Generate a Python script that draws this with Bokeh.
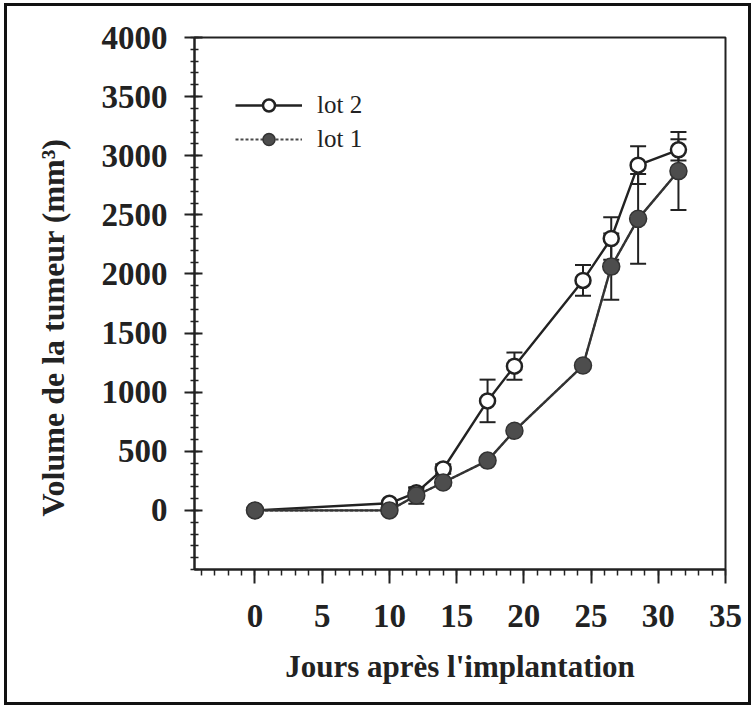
from bokeh.plotting import figure
from bokeh.models import (ColumnDataSource, Whisker, TeeHead, FixedTicker,
                          Legend, LegendItem, Range1d)
from bokeh.embed import file_html
from bokeh.resources import INLINE

# ---- data ----
days = [0, 10, 12, 14, 17.3, 19.3, 24.4, 26.5, 28.5, 31.5]
lot2 = [0, 60, 150, 350, 926, 1220, 1945, 2300, 2920, 3050]
lot2_err = [0, 0, 40, 40, 180, 115, 130, 180, 160, 90]
lot1 = [0, 0, 126, 236, 421, 673, 1225, 2062, 2466, 2870]
lot1_err = [0, 0, 70, 30, 20, 20, 30, 280, 380, 330]

x_ticks = [0, 5, 10, 15, 20, 25, 30, 35]
y_ticks = [0, 500, 1000, 1500, 2000, 2500, 3000, 3500, 4000]

series_names = ["lot 2", "lot 1"]
x_title = "Jours après l'implantation"
y_title = "Volume de la tumeur (mm³)"

INK = "#222222"
SERIF = "Liberation Serif"

src2 = ColumnDataSource(dict(
    x=days, y=lot2,
    upper=[v + e for v, e in zip(lot2, lot2_err)],
    lower=[v - e for v, e in zip(lot2, lot2_err)]))
src1 = ColumnDataSource(dict(
    x=days, y=lot1,
    upper=[v + e for v, e in zip(lot1, lot1_err)],
    lower=[v - e for v, e in zip(lot1, lot1_err)]))

p = figure(frame_width=531, frame_height=532,
           x_range=Range1d(-4.5, 35), y_range=Range1d(-500, 4000),
           output_backend="svg", toolbar_location=None,
           min_border_left=187, min_border_top=31,
           min_border_right=23, min_border_bottom=133)
p.styles = {"border": "3px solid #111", "margin": "3px 0 0 4px"}
p.background_fill_color = "white"
p.border_fill_color = "white"
p.outline_line_color = INK
p.outline_line_width = 2
p.xgrid.visible = False
p.ygrid.visible = False

# axes
p.xaxis.ticker = FixedTicker(ticks=x_ticks, minor_ticks=list(range(-4, 36)))
p.yaxis.ticker = FixedTicker(ticks=y_ticks, minor_ticks=list(range(-500, 4001, 100)))
for ax in (p.xaxis[0], p.yaxis[0]):
    ax.axis_line_color = INK
    ax.axis_line_width = 2
    ax.major_tick_line_color = INK
    ax.major_tick_line_width = 2
    ax.minor_tick_line_color = INK
    ax.minor_tick_line_width = 1.5
    ax.major_label_text_font = SERIF
    ax.major_label_text_font_style = "bold"
    ax.major_label_text_font_size = "33px"
    ax.major_label_text_color = INK
    ax.axis_label_text_font = SERIF
    ax.axis_label_text_font_style = "bold"
    ax.axis_label_text_color = INK

p.xaxis.major_tick_out = 14
p.xaxis.major_tick_in = 0
p.xaxis.minor_tick_out = 6
p.xaxis.minor_tick_in = 0
p.xaxis.major_label_standoff = 21
p.xaxis.axis_label = x_title
p.xaxis.axis_label_text_font_size = "31px"
p.xaxis.axis_label_standoff = 19

p.yaxis.major_tick_out = 10
p.yaxis.major_tick_in = 8
p.yaxis.minor_tick_out = 4
p.yaxis.minor_tick_in = 4
p.yaxis.major_label_standoff = 17
# trailing no-break spaces shift the centred title down, as in the reference
p.yaxis.axis_label = y_title + "\u00a0" * 6
p.yaxis.axis_label_text_font_size = "32px"
p.yaxis.axis_label_standoff = 28

# error bars
for src in (src2, src1):
    w = Whisker(source=src, base="x", upper="upper", lower="lower",
                line_color=INK, line_width=2,
                upper_head=TeeHead(size=16, line_color=INK, line_width=2),
                lower_head=TeeHead(size=16, line_color=INK, line_width=2))
    p.add_layout(w)

# lot 2 (open)
l2 = p.line("x", "y", source=src2, line_color=INK, line_width=2.4)
m2 = p.scatter("x", "y", source=src2, marker="circle", size=15,
               fill_color="white", line_color=INK, line_width=2.5)
# lot 1 (filled): dotted key line lies under the solid data line
l1_key = p.line("x", "y", source=src1, line_color="#4a4a4a",
                line_width=2, line_dash="3 2")
l1 = p.line("x", "y", source=src1, line_color="#333333", line_width=2.4)
m1 = p.scatter("x", "y", source=src1, marker="circle", size=17,
               fill_color="#4d4d4d", line_color="#333333", line_width=1.5)

legend = Legend(items=[LegendItem(label=series_names[0], renderers=[l2, m2]),
                       LegendItem(label=series_names[1], renderers=[l1_key, m1])],
                location=(41, 415))
legend.margin = 0
legend.padding = 0
legend.glyph_width = 67
legend.glyph_height = 30
legend.label_height = 30
legend.spacing = 4
legend.label_standoff = 15
legend.label_text_font = SERIF
legend.label_text_font_size = "25px"
legend.label_text_color = INK
legend.border_line_color = None
legend.background_fill_alpha = 0
p.add_layout(legend)

open("out.html", "w").write(file_html(p, INLINE))
